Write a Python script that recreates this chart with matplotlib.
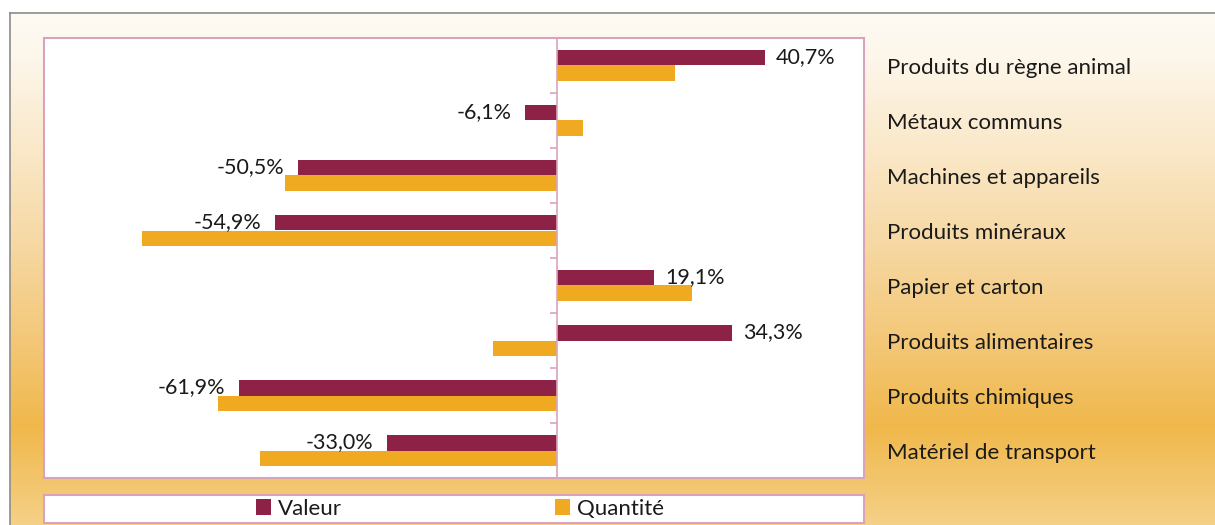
import numpy as np
import matplotlib
matplotlib.use("Agg")
import matplotlib.pyplot as plt
from matplotlib.patches import Rectangle, Patch
from matplotlib.colors import LinearSegmentedColormap
import matplotlib.transforms as mtransforms

categories = ["Produits du règne animal", "Métaux communs", "Machines et appareils",
              "Produits minéraux", "Papier et carton", "Produits alimentaires",
              "Produits chimiques", "Matériel de transport"]
valeur = [40.7, -6.1, -50.5, -54.9, 19.1, 34.3, -61.9, -33.0]
quantite = [23.2, 5.2, -53.0, -80.9, 26.4, -12.4, -66.1, -57.9]
series_names = ["Valeur", "Quantité"]

C_VAL = "#8E2246"
C_QTE = "#EFAA22"
C_BORDER = "#D9A3BC"
FONT = "Lato"
FS = 16
FS_LAB = 15.5

W, H = 1215, 525
fig = plt.figure(figsize=(W / 100, H / 100), dpi=100)
fig.patch.set_facecolor("white")

# background gradient panel
bg = fig.add_axes([10 / W, 0, 1 - 10 / W, (H - 13) / H], zorder=0)
stops = [(13, (254, 251, 245)), (60, (253, 246, 233)), (150, (250, 232, 200)),
         (250, (246, 215, 160)), (350, (243, 198, 115)), (427, (240, 184, 75)),
         (525, (245, 208, 135))]
pos = [(yy - 13) / (525 - 13) for yy, _ in stops]
cols = [tuple(v / 255 for v in c) for _, c in stops]
cmap = LinearSegmentedColormap.from_list("bg", list(zip(pos, cols)))
grad = np.linspace(0, 1, 512).reshape(-1, 1)
bg.imshow(grad, aspect="auto", cmap=cmap, extent=[0, 1, 1, 0])
bg.set_xlim(0, 1)
bg.set_ylim(1, 0)
bg.set_xticks([])
bg.set_yticks([])
for s in ["right", "bottom"]:
    bg.spines[s].set_visible(False)
for s in ["left", "top"]:
    bg.spines[s].set_color("#8C8C8C")
    bg.spines[s].set_linewidth(1.2)

# main axes
ax = fig.add_axes([44 / W, (H - 478) / H, 820 / W, 440 / H], zorder=2)
ax.set_facecolor("white")
n = len(categories)
y = np.arange(n)
h = 0.29
ax.barh(y - h / 2, valeur, height=h, color=C_VAL, zorder=3)
ax.barh(y + h / 2, quantite, height=h, color=C_QTE, zorder=3)
ax.set_xlim(-100, 60)
ax.set_ylim(n - 0.5, -0.5)

for s in ["right", "top", "bottom"]:
    ax.spines[s].set_visible(False)
ax.spines["left"].set_position(("data", 0))
ax.spines["left"].set_color(C_BORDER)
ax.spines["left"].set_linewidth(1.2)
ax.spines["left"].set_zorder(4)
ax.add_patch(Rectangle((0, 0), 1, 1, transform=ax.transAxes, fill=False,
                       edgecolor=C_BORDER, linewidth=1.5, clip_on=False, zorder=5))
ax.set_xticks([])
ax.set_yticks(np.arange(-0.5, n, 1.0))
ax.set_yticklabels([])
ax.tick_params(axis="y", direction="out", length=5, width=1.2, color=C_BORDER)

for i, v in enumerate(valeur):
    lab = f"{v:.1f}%".replace(".", ",")
    if v >= 0:
        ax.annotate(lab, (v, i - h / 2), xytext=(7.5, 0), textcoords="offset points",
                    ha="left", va="center", fontsize=FS_LAB, family=FONT, color="#1a1a1a", zorder=6)
    else:
        ax.annotate(lab, (v, i - h / 2), xytext=(-10, 0), textcoords="offset points",
                    ha="right", va="center", fontsize=FS_LAB, family=FONT, color="#1a1a1a", zorder=6)

trans = mtransforms.blended_transform_factory(ax.transAxes, ax.transData)
for i, c in enumerate(categories):
    ax.annotate(c, ((887 - 44) / 820, i), xycoords=trans, xytext=(0, -1.5),
                textcoords="offset points", ha="left", va="center",
                fontsize=FS, family=FONT, color="#1a1a1a", annotation_clip=False)

# legend box
lax = fig.add_axes([44 / W, (H - 523) / H, 820 / W, 28 / H], zorder=2)
lax.set_facecolor("white")
lax.set_xticks([])
lax.set_yticks([])
for s in lax.spines.values():
    s.set_color(C_BORDER)
    s.set_linewidth(1.5)
handles = [Patch(facecolor=C_VAL), Patch(facecolor=C_QTE)]
leg = lax.legend(handles, series_names, loc="center", bbox_to_anchor=(0.507, 0.5),
                 ncol=2, frameon=False, prop={"family": FONT, "size": FS},
                 handlelength=0.7, handleheight=0.7, handletextpad=0.28,
                 columnspacing=9.6, borderpad=0)
for t in leg.get_texts():
    t.set_color("#1a1a1a")

fig.savefig("out.png", dpi=100, facecolor=fig.get_facecolor())
